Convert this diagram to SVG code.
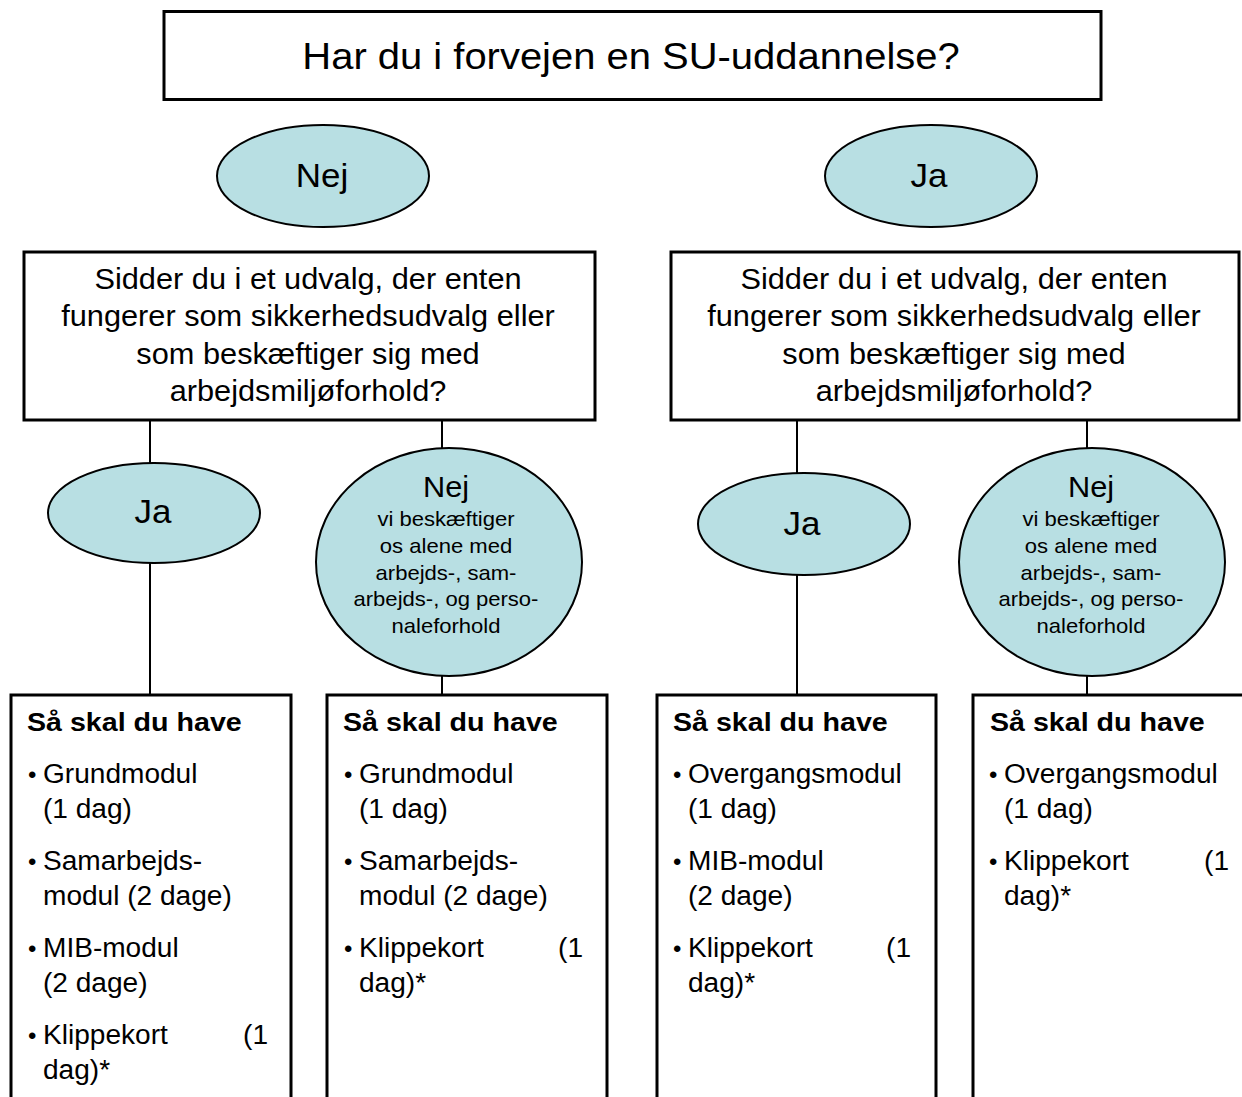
<svg xmlns="http://www.w3.org/2000/svg" width="1242" height="1097" viewBox="0 0 1242 1097">
<style>
text { font-family: "Liberation Sans", Arial, sans-serif; fill: #000; }
.box { fill: #fff; stroke: #000; stroke-width: 3; }
.oval { fill: #B8DFE3; stroke: #000; stroke-width: 2; }
.conn line { stroke: #000; stroke-width: 2; }
.c { text-anchor: middle; }
.e { text-anchor: end; }
.title { font-size: 37px; }
.q { font-size: 29px; }
.big { font-size: 33px; }
.mid { font-size: 29px; }
.small { font-size: 21px; }
.hd { font-size: 26.5px; font-weight: bold; }
.li { font-size: 27px; }
.bu { font-size: 24px; }
</style>
<rect width="1242" height="1097" fill="#fff"/>

<g id="connectors" class="conn">
<line x1="150" y1="421" x2="150" y2="463"/>
<line x1="150" y1="563" x2="150" y2="695"/>
<line x1="442" y1="421" x2="442" y2="449"/>
<line x1="442" y1="676" x2="442" y2="695"/>
<line x1="797" y1="421" x2="797" y2="474"/>
<line x1="797" y1="575" x2="797" y2="695"/>
<line x1="1087" y1="421" x2="1087" y2="449"/>
<line x1="1087" y1="676" x2="1087" y2="695"/>
</g>

<g id="n-title">
<rect class="box" x="164" y="11.5" width="937" height="88"/>
<text class="title c" transform="translate(631,69) scale(1.08,1)">Har du i forvejen en SU-uddannelse?</text>
</g>

<g id="n-nej-top">
<ellipse class="oval" cx="323" cy="176" rx="106" ry="51"/>
<text class="big c" transform="translate(322,187) scale(1.06,1)">Nej</text>
</g>

<g id="n-ja-top">
<ellipse class="oval" cx="931" cy="176" rx="106" ry="51"/>
<text class="big c" transform="translate(929,187) scale(1.06,1)">Ja</text>
</g>

<g id="n-q-left">
<rect class="box" x="24" y="252" width="571" height="168"/>
<text class="q c" transform="translate(308,0) scale(1.06,1)"><tspan x="0" y="289">Sidder du i et udvalg, der enten</tspan><tspan x="0" y="326.5">fungerer som sikkerhedsudvalg eller</tspan><tspan x="0" y="364">som beskæftiger sig med</tspan><tspan x="0" y="401.5">arbejdsmiljøforhold?</tspan></text>
</g>

<g id="n-q-right">
<rect class="box" x="671" y="252" width="568" height="168"/>
<text class="q c" transform="translate(954,0) scale(1.06,1)"><tspan x="0" y="289">Sidder du i et udvalg, der enten</tspan><tspan x="0" y="326.5">fungerer som sikkerhedsudvalg eller</tspan><tspan x="0" y="364">som beskæftiger sig med</tspan><tspan x="0" y="401.5">arbejdsmiljøforhold?</tspan></text>
</g>

<g id="n-ja-left">
<ellipse class="oval" cx="154" cy="513" rx="106" ry="50"/>
<text class="big c" transform="translate(153,523) scale(1.06,1)">Ja</text>
</g>

<g id="n-nej-left">
<ellipse class="oval" cx="449" cy="562" rx="133" ry="114"/>
<text class="mid c" transform="translate(446,497) scale(1.06,1)">Nej</text>
<text class="small c" transform="translate(446,0) scale(1.05,1)"><tspan x="0" y="526">vi beskæftiger</tspan><tspan x="0" y="553">os alene med</tspan><tspan x="0" y="580">arbejds-, sam-</tspan><tspan x="0" y="606.5">arbejds-, og perso-</tspan><tspan x="0" y="633">naleforhold</tspan></text>
</g>

<g id="n-ja-right">
<ellipse class="oval" cx="804" cy="524" rx="106" ry="51"/>
<text class="big c" transform="translate(802,535) scale(1.06,1)">Ja</text>
</g>

<g id="n-nej-right">
<ellipse class="oval" cx="1092" cy="562" rx="133" ry="114"/>
<text class="mid c" transform="translate(1091,497) scale(1.06,1)">Nej</text>
<text class="small c" transform="translate(1091,0) scale(1.05,1)"><tspan x="0" y="526">vi beskæftiger</tspan><tspan x="0" y="553">os alene med</tspan><tspan x="0" y="580">arbejds-, sam-</tspan><tspan x="0" y="606.5">arbejds-, og perso-</tspan><tspan x="0" y="633">naleforhold</tspan></text>
</g>

<g id="n-box1">
<rect class="box" x="11" y="695" width="280" height="420"/>
<text class="hd" transform="translate(27,731) scale(1.08,1)">Så skal du have</text>
<text class="bu" x="28" y="783">•</text>
<text class="li" transform="translate(43,783) scale(1.04,1)">Grundmodul</text>
<text class="li" transform="translate(43,818) scale(1.04,1)">(1 dag)</text>
<text class="bu" x="28" y="870">•</text>
<text class="li" transform="translate(43,870) scale(1.04,1)">Samarbejds-</text>
<text class="li" transform="translate(43,905) scale(1.04,1)">modul (2 dage)</text>
<text class="bu" x="28" y="957">•</text>
<text class="li" transform="translate(43,957) scale(1.04,1)">MIB-modul</text>
<text class="li" transform="translate(43,992) scale(1.04,1)">(2 dage)</text>
<text class="bu" x="28" y="1044">•</text>
<text class="li" transform="translate(43,1044) scale(1.04,1)">Klippekort</text>
<text class="li e" transform="translate(268,1044) scale(1.04,1)">(1</text>
<text class="li" transform="translate(43,1079) scale(1.04,1)">dag)*</text>
</g>

<g id="n-box2">
<rect class="box" x="327" y="695" width="280" height="420"/>
<text class="hd" transform="translate(343,731) scale(1.08,1)">Så skal du have</text>
<text class="bu" x="344" y="783">•</text>
<text class="li" transform="translate(359,783) scale(1.04,1)">Grundmodul</text>
<text class="li" transform="translate(359,818) scale(1.04,1)">(1 dag)</text>
<text class="bu" x="344" y="870">•</text>
<text class="li" transform="translate(359,870) scale(1.04,1)">Samarbejds-</text>
<text class="li" transform="translate(359,905) scale(1.04,1)">modul (2 dage)</text>
<text class="bu" x="344" y="957">•</text>
<text class="li" transform="translate(359,957) scale(1.04,1)">Klippekort</text>
<text class="li e" transform="translate(583,957) scale(1.04,1)">(1</text>
<text class="li" transform="translate(359,992) scale(1.04,1)">dag)*</text>
</g>

<g id="n-box3">
<rect class="box" x="657" y="695" width="279" height="420"/>
<text class="hd" transform="translate(673,731) scale(1.08,1)">Så skal du have</text>
<text class="bu" x="673" y="783">•</text>
<text class="li" transform="translate(688,783) scale(1.04,1)">Overgangsmodul</text>
<text class="li" transform="translate(688,818) scale(1.04,1)">(1 dag)</text>
<text class="bu" x="673" y="870">•</text>
<text class="li" transform="translate(688,870) scale(1.04,1)">MIB-modul</text>
<text class="li" transform="translate(688,905) scale(1.04,1)">(2 dage)</text>
<text class="bu" x="673" y="957">•</text>
<text class="li" transform="translate(688,957) scale(1.04,1)">Klippekort</text>
<text class="li e" transform="translate(911,957) scale(1.04,1)">(1</text>
<text class="li" transform="translate(688,992) scale(1.04,1)">dag)*</text>
</g>

<g id="n-box4">
<rect class="box" x="973" y="695" width="290" height="420"/>
<text class="hd" transform="translate(990,731) scale(1.08,1)">Så skal du have</text>
<text class="bu" x="989" y="783">•</text>
<text class="li" transform="translate(1004,783) scale(1.04,1)">Overgangsmodul</text>
<text class="li" transform="translate(1004,818) scale(1.04,1)">(1 dag)</text>
<text class="bu" x="989" y="870">•</text>
<text class="li" transform="translate(1004,870) scale(1.04,1)">Klippekort</text>
<text class="li e" transform="translate(1229,870) scale(1.04,1)">(1</text>
<text class="li" transform="translate(1004,905) scale(1.04,1)">dag)*</text>
</g>
</svg>
